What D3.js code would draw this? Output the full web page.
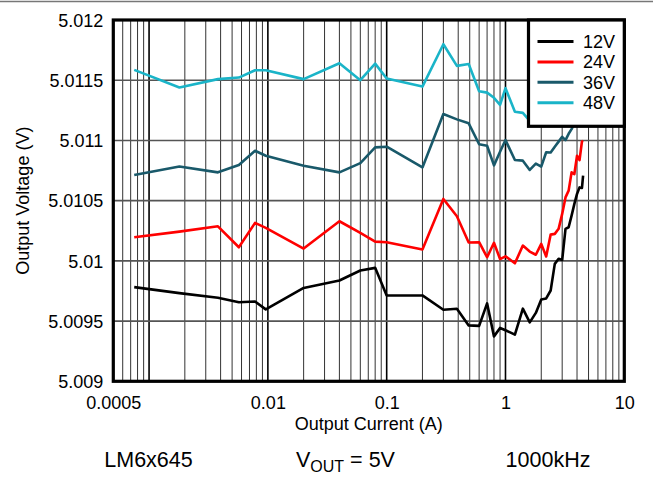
<!DOCTYPE html>
<html><head><meta charset="utf-8">
<script src="https://cdn.jsdelivr.net/npm/d3@7"></script>
<style>
body{margin:0;background:#fff;}
svg{display:block;font-family:Arial,"Liberation Sans",Helvetica,sans-serif;}
</style>
</head><body>
<svg id="chart" width="653" height="487"></svg>
<script>
// ---- data ----
const current = [0.00075, 0.0018, 0.0038, 0.0057, 0.0078, 0.0096, 0.02, 0.04, 0.06, 0.08, 0.1, 0.2, 0.3, 0.39, 0.49, 0.6, 0.7, 0.8, 0.9, 1.0, 1.2, 1.4, 1.6, 1.8, 2.0, 2.2, 2.4, 2.6, 2.8, 3.0, 3.2, 3.4, 3.6, 3.8, 4.0, 4.2, 4.4, 4.5];
const v12 = [5.009782, 5.009732, 5.009694, 5.009657, 5.009663, 5.009597, 5.009775, 5.009837, 5.00992, 5.009942, 5.009713, 5.009713, 5.009594, 5.009603, 5.009464, 5.00946, 5.009647, 5.009373, 5.009443, 5.009424, 5.009387, 5.009603, 5.009489, 5.009568, 5.00968, 5.009688, 5.009754, 5.009975, 5.010017, 5.010007, 5.010266, 5.010279, 5.010376, 5.010473, 5.010556, 5.01061, 5.010605, 5.010707];
const v24 = [5.010196, 5.010243, 5.010287, 5.010113, 5.010315, 5.010274, 5.010102, 5.010329, 5.010232, 5.01016, 5.010155, 5.010094, 5.010514, 5.01037, 5.010152, 5.010155, 5.01003, 5.01015, 5.010015, 5.010038, 5.00998, 5.010127, 5.010077, 5.010051, 5.010141, 5.010036, 5.010218, 5.010224, 5.010266, 5.01039, 5.010527, 5.010583, 5.010735, 5.010721, 5.010873, 5.010837, 5.010991, 5.010997];
const v36 = [5.010713, 5.010784, 5.010735, 5.010796, 5.010914, 5.010873, 5.01079, 5.010735, 5.010812, 5.010942, 5.010948, 5.010776, 5.011219, 5.011175, 5.011142, 5.010968, 5.010956, 5.010793, 5.010906, 5.011003, 5.010838, 5.010832, 5.010755, 5.010807, 5.010782, 5.010902, 5.0109, 5.010948, 5.01099, 5.01103, 5.011003, 5.011055, 5.011094, 5.011146, 5.011196, 5.011246, 5.011296, null];
const v48 = [5.011586, 5.011439, 5.011509, 5.011522, 5.011583, 5.011583, 5.011509, 5.011641, 5.0115, 5.011638, 5.011514, 5.011447, 5.011799, 5.011619, 5.011635, 5.011409, 5.011397, 5.011354, 5.011296, 5.011434, 5.011238, 5.011229, 5.011163, 5.01118, 5.011196, null, null, null, null, null, null, null, null, null, null, null, null, null];
const seriesNames = ["12V", "24V", "36V", "48V"];
const seriesColors = ["#000000", "#ff0000", "#19596a", "#1ab4c8"];
const xTickValues = [0.0005, 0.01, 0.1, 1, 10];
const xTickLabels = ["0.0005", "0.01", "0.1", "1", "10"];
const yTickValues = [5.009, 5.0095, 5.01, 5.0105, 5.011, 5.0115, 5.012];
const yTickLabels = ["5.009", "5.0095", "5.01", "5.0105", "5.011", "5.0115", "5.012"];

// ---- layout ----
const L = 113.3, R = 624.3, T = 20, B = 381.3;
const svg = d3.select("#chart");
const x = d3.scaleLog().domain([0.0005, 10]).range([L, R]);
const y = d3.scaleLinear().domain([5.009, 5.012]).range([B, T]);

// top page rule
svg.append("line").attr("x1", 0).attr("x2", 653).attr("y1", 1.5).attr("y2", 1.5)
  .attr("stroke", "#777").attr("stroke-width", 1.5);

// vertical grid (log minor)
const gridX = [];
for (let e = -4; e <= 0; e++) {
  for (let k = 1; k <= 9; k++) {
    const v = k * Math.pow(10, e);
    if (v > 0.00051 && v < 9.99) gridX.push(v);
  }
}
const isDecade = d => Math.abs(Math.log10(d) - Math.round(Math.log10(d))) < 1e-9;
svg.append("g").selectAll("line").data(gridX).join("line")
  .attr("x1", d => x(d)).attr("x2", d => x(d)).attr("y1", T).attr("y2", B)
  .attr("stroke", d => isDecade(d) ? "#000" : "#333")
  .attr("stroke-width", d => isDecade(d) ? 1.6 : 1);

// horizontal grid
svg.append("g").selectAll("line").data(yTickValues.slice(1, -1)).join("line")
  .attr("x1", L).attr("x2", R).attr("y1", d => y(d)).attr("y2", d => y(d))
  .attr("stroke", "#555").attr("stroke-width", 1.6);

// series lines
const series = [v12, v24, v36, v48];
const line = d3.line()
  .defined(d => d[1] !== null)
  .x(d => x(d[0])).y(d => y(d[1]));
series.forEach((vals, i) => {
  const pts = current.map((c, j) => [c, vals[j]]);
  svg.append("path").datum(pts)
    .attr("fill", "none").attr("stroke", seriesColors[i])
    .attr("stroke-width", 2.6).attr("stroke-linejoin", "round")
    .attr("d", line);
});

// axes via d3 (labels only)
const xAxis = d3.axisBottom(x).tickValues(xTickValues)
  .tickFormat((d, i) => xTickLabels[i]).tickSize(0).tickPadding(0);
const gx = svg.append("g").attr("transform", `translate(0,${B})`).call(xAxis);
gx.select(".domain").remove();
gx.selectAll("text").attr("font-size", 18).attr("fill", "#000")
  .attr("font-family", "Arial, 'Liberation Sans', sans-serif").attr("dy", null).attr("y", 27.5);

const yAxis = d3.axisLeft(y).tickValues(yTickValues)
  .tickFormat((d, i) => yTickLabels[i]).tickSize(0).tickPadding(10);
const gy = svg.append("g").attr("transform", `translate(${L},0)`).call(yAxis);
gy.select(".domain").remove();
gy.selectAll("text").attr("font-size", 18).attr("fill", "#000")
  .attr("font-family", "Arial, 'Liberation Sans', sans-serif").attr("dy", "0.35em");

// plot frame
svg.append("rect").attr("x", L).attr("y", T).attr("width", R - L).attr("height", B - T)
  .attr("fill", "none").attr("stroke", "#000").attr("stroke-width", 3.2);

// legend
const lg = svg.append("g");
const LX = 528.5, LY = T, LW = R - 528.5, LH = 106.3;
lg.append("rect").attr("x", LX).attr("y", LY).attr("width", LW).attr("height", LH)
  .attr("fill", "#fff").attr("stroke", "#000").attr("stroke-width", 3.2);
seriesNames.forEach((n, i) => {
  const cy = 41.5 + i * 20.4;
  lg.append("line").attr("x1", 537.5).attr("x2", 573.5).attr("y1", cy).attr("y2", cy)
    .attr("stroke", seriesColors[i]).attr("stroke-width", 3);
  lg.append("text").attr("x", 583).attr("y", cy + 6.5).attr("font-size", 18)
    .attr("fill", "#000").text(n);
});

// axis titles
svg.append("text").attr("x", (L + R) / 2).attr("y", 429.5).attr("text-anchor", "middle")
  .attr("font-size", 18).text("Output Current (A)");
svg.append("text").attr("transform", `translate(28.5,${(T + B) / 2}) rotate(-90)`)
  .attr("text-anchor", "middle").attr("font-size", 18).text("Output Voltage (V)");

// footer captions
svg.append("text").attr("x", 148.5).attr("y", 467).attr("text-anchor", "middle")
  .attr("font-size", 21.5).text("LM6x645");
const vt = svg.append("text").attr("x", 296).attr("y", 467).attr("font-size", 21.5);
vt.append("tspan").text("V");
vt.append("tspan").attr("font-size", 16).attr("dy", 5).text("OUT");
vt.append("tspan").attr("dy", -5).text(" = 5V");
svg.append("text").attr("x", 548).attr("y", 467).attr("text-anchor", "middle")
  .attr("font-size", 21.5).text("1000kHz");
</script>
</body></html>
